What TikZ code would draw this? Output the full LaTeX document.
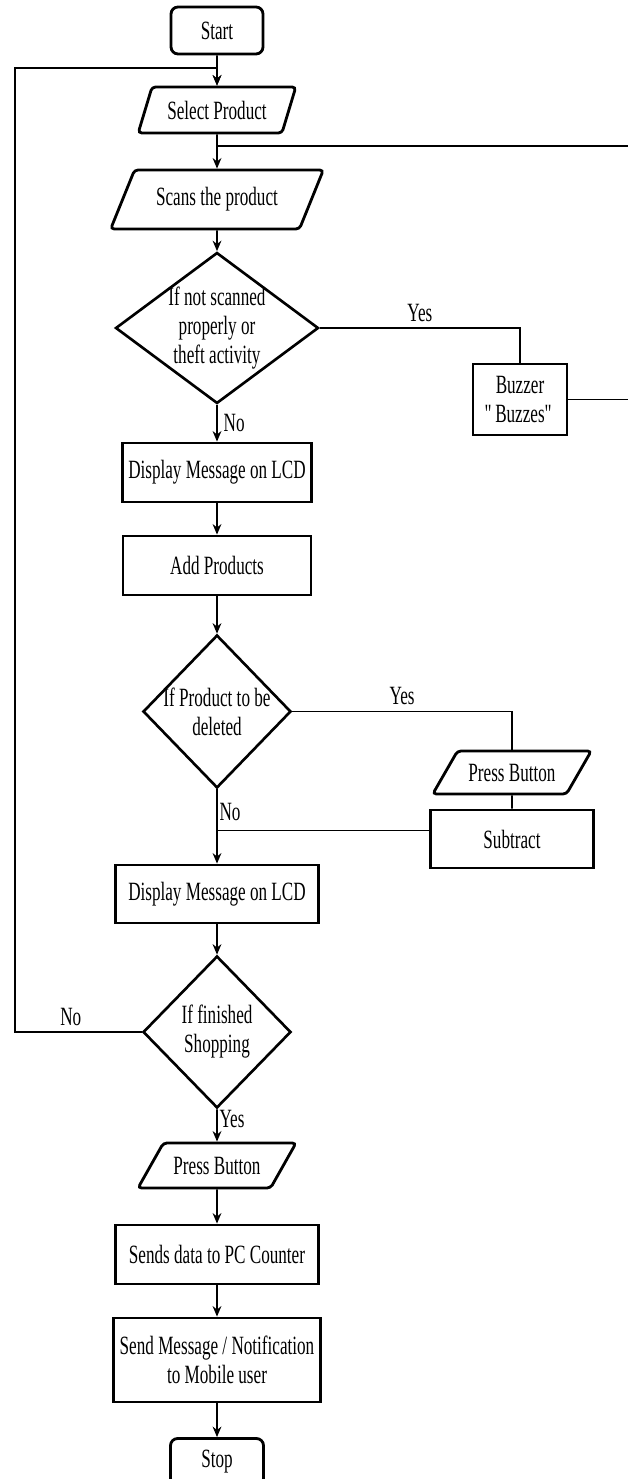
\documentclass[tikz,border=0pt]{standalone}
\usepackage{fontspec}
\setmainfont[FakeStretch=0.65]{Liberation Serif}
\usetikzlibrary{shapes.geometric,arrows.meta}

\tikzset{
    term/.style={draw, line width=1.6pt, rounded corners=4pt, minimum width=1.84cm, minimum height=0.94cm},
    proc/.style={draw, line width=1.6pt, minimum width=4.06cm, minimum height=1.18cm, align=center},
    io/.style 2 args={draw, line width=1.6pt, trapezium, trapezium stretches=true,
        trapezium left angle=#1, trapezium right angle=#2, rounded corners=2pt},
    decision/.style={draw, line width=1.5pt, diamond, inner sep=0pt},
    arr/.style={line width=0.9pt, -{Stealth[length=6pt,width=5pt]}},
    link/.style={line width=0.9pt},
}

\begin{document}
\begin{tikzpicture}[x=0.02cm, y=-0.02cm, font=\fontsize{15}{16.5}\selectfont]
    \useasboundingbox (0,0) rectangle (628,1479);

    % main column
    \node[term] (start) at (217,30.5) {Start};
    \node[io={68.6}{111.4}, minimum width=3.16cm, minimum height=0.92cm] (sel) at (217,110) {Select Product};
    \node[io={61.5}{118.5}, minimum width=4.26cm, minimum height=1.18cm] (scan) at (217,199.5) {Scans the product};
    \node[decision, minimum width=4.06cm, minimum height=3.02cm,
        label={[align=center]center:{If not scanned\\properly or\\theft activity}}] (dec1) at (217,328) {};
    \node[proc, minimum width=3.76cm] (disp1) at (217,472.5) {Display Message on LCD};
    \node[proc, minimum width=3.76cm] (add) at (217,565.5) {Add Products};
    \node[decision, minimum width=2.96cm, minimum height=3.06cm,
        label={[align=center]center:{If Product to be\\deleted}}] (dec2) at (217,711.5) {};
    \node[proc, minimum height=1.16cm] (disp2) at (217,894) {Display Message on LCD};
    \node[decision, minimum width=2.96cm, minimum height=3.04cm,
        label={[align=center]center:{If finished\\Shopping}}] (dec3) at (217,1032) {};
    \node[io={51.3}{128.7}, minimum width=3.18cm, minimum height=0.9cm] (press2) at (217,1165.5) {Press Button};
    \node[proc] (send) at (217,1254.5) {Sends data to PC Counter};
    \node[proc, minimum height=1.68cm] (notif) at (217,1360) {Send Message / Notification\\to Mobile user};
    \node[term, minimum width=1.86cm] (stop) at (217,1462) {Stop};

    % side branches
    \node[proc, minimum width=1.88cm, minimum height=1.42cm] (buzz) at (520,399.5) {Buzzer\\\textquotedbl Buzzes\textquotedbl};
    \node[io={52.5}{127.5}, minimum width=3.18cm, minimum height=0.86cm] (press1) at (512,772.5) {Press Button};
    \node[proc, minimum width=3.26cm, minimum height=1.16cm] (sub) at (512,839) {Subtract};

    \coordinate (loopL) at (15,68);
    \coordinate (jn) at (217,146);
    \coordinate (edgeR) at (628,146);

    \draw[arr] (start) to (sel);
    \draw[arr] (sel) to (scan);
    \draw[link] (jn) to (edgeR);
    \draw[arr] (scan) to (dec1);
    \draw[link] (dec1.east) -| node[above, pos=.25]{Yes} (buzz.north);
    \draw[link] (buzz.east) to (buzz.east -| edgeR);
    \draw[arr] (dec1) to node[right]{No} (disp1);
    \draw[arr] (disp1) to (add);
    \draw[arr] (add) to (dec2);
    \draw[link] (dec2.east) -| node[above, pos=.25]{Yes} (press1.north);
    \draw[link] (press1) to (sub);
    \draw[link] (sub.174) to (sub.174 -| dec2.south);
    \draw[arr] (dec2) to node[right, pos=.3, inner sep=1pt]{No} (disp2);
    \draw[arr] (disp2) to (dec3);
    \draw[arr] (dec3.west) -| node[above, pos=.28]{No} (loopL) -| (sel.north);
    \draw[arr] (dec3) to node[right, pos=.3, inner sep=1pt]{Yes} (press2);
    \draw[arr] (press2) to (send);
    \draw[arr] (send) to (notif);
    \draw[arr] (notif) to (stop);
\end{tikzpicture}
\end{document}
